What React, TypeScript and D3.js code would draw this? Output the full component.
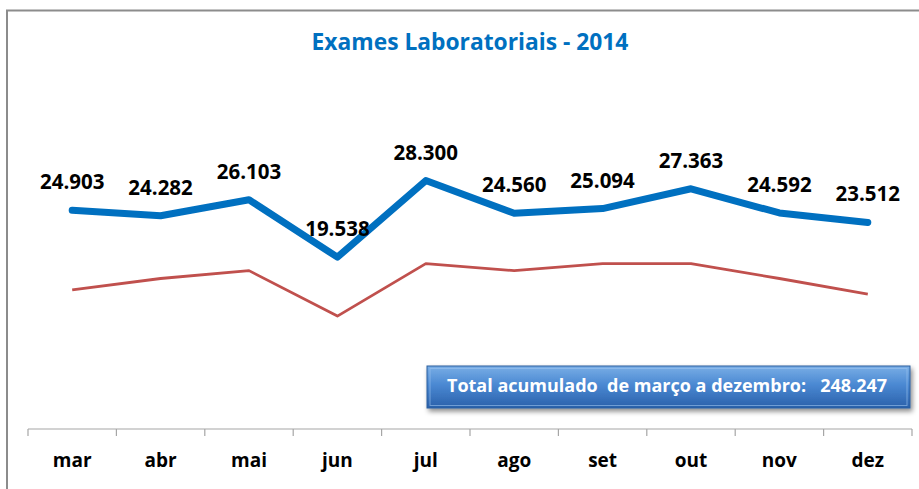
import React, { useEffect, useRef } from 'react';
import * as d3 from 'd3';

const months = ['mar', 'abr', 'mai', 'jun', 'jul', 'ago', 'set', 'out', 'nov', 'dez'];
const exames2014 = [24903, 24282, 26103, 19538, 28300, 24560, 25094, 27363, 24592, 23512];
const referencia = [15800, 17100, 18000, 12800, 18800, 18000, 18800, 18800, 17100, 15300];
const totalLabel = 'Total acumulado  de março a dezembro:   248.247';
const title = 'Exames Laboratoriais - 2014';

const fmt = (v: number) => d3.format(',')(v).replace(/,/g, '.');

const App = () => {
    const ref = useRef<SVGSVGElement>(null);

    useEffect(() => {
        const width = 919;
        const height = 489;
        const font = '"Open Sans", sans-serif';

        const svg = d3.select(ref.current);
        svg.selectAll('*').remove();
        svg.attr('width', width).attr('height', height);

        const defs = svg.append('defs');
        const grad = defs.append('linearGradient')
            .attr('id', 'boxGrad')
            .attr('x1', 0).attr('y1', 0).attr('x2', 0).attr('y2', 1);
        grad.append('stop').attr('offset', '0%').attr('stop-color', '#79aee6');
        grad.append('stop').attr('offset', '45%').attr('stop-color', '#4a88d2');
        grad.append('stop').attr('offset', '100%').attr('stop-color', '#2a60aa');
        const shadow = defs.append('filter').attr('id', 'boxShadow')
            .attr('x', '-5%').attr('y', '-30%').attr('width', '110%').attr('height', '170%');
        shadow.append('feDropShadow')
            .attr('dx', 2).attr('dy', 3).attr('stdDeviation', 2.5)
            .attr('flood-color', '#000').attr('flood-opacity', 0.45);

        // frame
        svg.append('rect')
            .attr('x', 7).attr('y', 10.5)
            .attr('width', 930).attr('height', 500)
            .attr('fill', '#fff')
            .attr('stroke', '#8c8c8c')
            .attr('stroke-width', 2);

        const x = d3.scaleBand<string>()
            .domain(months)
            .range([28, 912]);
        const y = d3.scaleLinear()
            .domain([0, 35000])
            .range([428, 122]);
        const cx = (m: string) => (x(m) ?? 0) + x.bandwidth() / 2;

        // title
        svg.append('text')
            .attr('x', 470).attr('y', 50)
            .attr('text-anchor', 'middle')
            .attr('font-family', font)
            .attr('font-weight', 'bold')
            .attr('font-size', 22.8)
            .attr('fill', '#0070c0')
            .text(title);

        // x axis
        const axis = svg.append('g').attr('transform', 'translate(0,429)');
        axis.append('line')
            .attr('x1', 28).attr('x2', 912)
            .attr('stroke', '#a6a6a6').attr('stroke-width', 1.2);
        const ticks = months.map(m => x(m) ?? 0).concat([912]);
        axis.selectAll('line.tick')
            .data(ticks)
            .enter()
            .append('line')
            .attr('class', 'tick')
            .attr('x1', d => d).attr('x2', d => d)
            .attr('y1', 0).attr('y2', 7)
            .attr('stroke', '#a6a6a6').attr('stroke-width', 1.2);
        axis.selectAll('text')
            .data(months)
            .enter()
            .append('text')
            .attr('x', d => cx(d))
            .attr('y', 38)
            .attr('text-anchor', 'middle')
            .attr('font-family', font)
            .attr('font-weight', 'bold')
            .attr('font-size', 19)
            .attr('fill', '#000')
            .text(d => d);

        const line = d3.line<number>()
            .x((d, i) => cx(months[i]))
            .y(d => y(d));

        svg.append('path')
            .datum(referencia)
            .attr('d', line)
            .attr('fill', 'none')
            .attr('stroke', '#c0504d')
            .attr('stroke-width', 2.8)
            .attr('stroke-linejoin', 'round');

        svg.append('path')
            .datum(exames2014)
            .attr('d', line)
            .attr('fill', 'none')
            .attr('stroke', '#0070c0')
            .attr('stroke-width', 7)
            .attr('stroke-linejoin', 'round')
            .attr('stroke-linecap', 'round');

        svg.append('g')
            .selectAll('text')
            .data(exames2014)
            .enter()
            .append('text')
            .attr('x', (d, i) => cx(months[i]))
            .attr('y', d => y(d) - 21)
            .attr('text-anchor', 'middle')
            .attr('font-family', font)
            .attr('font-weight', 'bold')
            .attr('font-size', 20.5)
            .attr('fill', '#000')
            .text(d => fmt(d));

        // total box
        const box = svg.append('g');
        box.append('rect')
            .attr('x', 427).attr('y', 366)
            .attr('width', 483).attr('height', 42)
            .attr('fill', 'url(#boxGrad)')
            .attr('stroke', '#2a5f9e')
            .attr('stroke-width', 1)
            .attr('filter', 'url(#boxShadow)');
        box.append('rect')
            .attr('x', 430).attr('y', 368.5)
            .attr('width', 477).attr('height', 37)
            .attr('fill', 'none')
            .attr('stroke', '#9cc4ee')
            .attr('stroke-opacity', 0.6)
            .attr('stroke-width', 1);
        box.append('text')
            .attr('x', 667).attr('y', 392)
            .attr('text-anchor', 'middle')
            .attr('font-family', font)
            .attr('font-weight', 'bold')
            .attr('font-size', 18)
            .attr('fill', '#fff')
            .style('white-space', 'pre')
            .text(totalLabel);
    }, []);

    return (
        <div style={{ position: 'absolute', left: 0, top: 0 }}>
            <svg ref={ref} style={{ display: 'block' }} />
        </div>
    );
};

export default App;
